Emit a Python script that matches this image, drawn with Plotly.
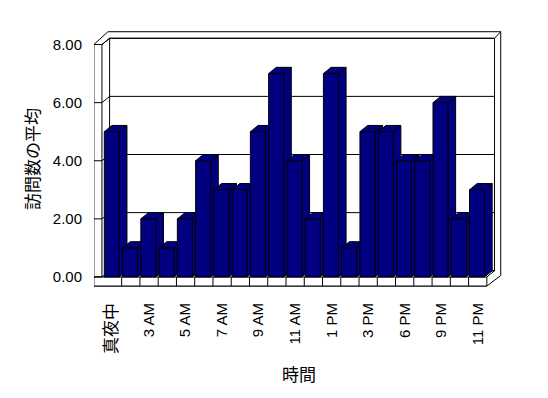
import plotly.graph_objects as go

# ---- data ----
hours = ["真夜中", "2 AM", "3 AM", "4 AM", "5 AM", "6 AM", "7 AM", "8 AM", "9 AM", "10 AM",
         "11 AM", "正午", "1 PM", "2 PM", "3 PM", "5 PM", "6 PM", "8 PM", "9 PM", "10 PM", "11 PM"]
avg_visits = [5, 1, 2, 1, 2, 4, 3, 3, 5, 7, 4, 2, 7, 1, 5, 5, 4, 4, 6, 2, 3]
y_ticks = [0, 2, 4, 6, 8]

x_idx = list(range(len(hours)))
shown_idx = x_idx[::2]


def fmt_label(t):
    if any(ord(c) > 0x2E80 for c in t):
        return ("<span style=\"font-family:'Noto Sans CJK JP';font-size:17px\">"
                f"{t}</span>")
    return t


shown_text = [fmt_label(t) for t in hours[::2]]

# ---- style / geometry (data units) ----
NAVY = "#000080"
DX, DY = 0.42, 0.215          # oblique depth offset
BAR_OFF, BAR_W = -0.45, 0.82
WALL_OUT, WALL_IN = -1.02, -0.58
FLOOR_B = -0.31
N = len(hours)
RIGHT_IN = N - 0.5 + DX
RIGHT_OUT = RIGHT_IN + 0.34
TOP_IN = max(y_ticks) + DY
TOP_OUT = max(y_ticks) + 0.44
BACK_L = WALL_IN + DX

shapes = []
line = dict(color="black", width=1)


def poly(pts, fill="white"):
    p = "M " + " L ".join(f"{x},{y}" for x, y in pts) + " Z"
    shapes.append(dict(type="path", path=p, xref="x", yref="y", fillcolor=fill,
                       line=line, layer="below"))


def seg(x0, y0, x1, y1):
    shapes.append(dict(type="line", x0=x0, y0=y0, x1=x1, y1=y1, xref="x", yref="y",
                       line=line, layer="below"))


ymax = max(y_ticks)
# outer frame (wall slabs)
poly([(WALL_OUT, ymax), (BACK_L - 0.09, TOP_OUT), (RIGHT_OUT, TOP_OUT),
      (RIGHT_OUT, 0.05), (N - 0.5, FLOOR_B), (WALL_OUT, FLOOR_B)])
# back wall inner
poly([(BACK_L, TOP_IN), (RIGHT_IN, TOP_IN), (RIGHT_IN, DY), (BACK_L, DY)])
seg(WALL_IN, ymax, BACK_L, TOP_IN)
seg(RIGHT_IN, TOP_IN, RIGHT_OUT, TOP_OUT)
seg(N - 0.5, 0, RIGHT_IN, DY)
# left wall front face
poly([(WALL_OUT, 0), (WALL_IN, 0), (WALL_IN, ymax), (WALL_OUT, ymax)])
# floor front face
poly([(WALL_OUT, FLOOR_B), (N - 0.5, FLOOR_B), (N - 0.5, 0), (WALL_OUT, 0)])
for k in range(1, N):
    seg(k - 0.5, FLOOR_B, k - 0.5, 0)
# gridlines on back wall + ticks across wall face
for v in y_ticks:
    seg(WALL_OUT, v, WALL_IN, v)
    seg(WALL_IN, v, BACK_L, v + DY)
    seg(BACK_L, v + DY, RIGHT_IN, v + DY)

# bar sides and tops
for i, v in zip(x_idx, avg_visits):
    xl = i + BAR_OFF
    xr = xl + BAR_W
    poly([(xr, 0), (xr, v), (xr + DX, v + DY), (xr + DX, DY)], fill=NAVY)
    poly([(xl, v), (xl + DX, v + DY), (xr + DX, v + DY), (xr, v)], fill=NAVY)

fig = go.Figure(go.Bar(
    x=x_idx, y=avg_visits, width=BAR_W, offset=BAR_OFF,
    marker=dict(color=NAVY, line=dict(color="black", width=1)),
    hoverinfo="skip",
))

# page body has an 8px margin; figure sized to fit inside it
W, H = 532, 382
ML, MR, MT, MB = 86, 36, 20, 100
px_x = 18.26
px_y = 29.06
x_lo = -0.5 - (103.4 - 8 - ML) / px_x
x_hi = x_lo + (W - ML - MR) / px_x
y_lo = -((H - MB) - (277 - 8)) / px_y
y_hi = y_lo + (H - MT - MB) / px_y

TICKFONT = dict(family="Liberation Sans, Noto Sans CJK JP", size=15, color="black")
TITLEFONT = dict(family="Noto Sans CJK JP", size=17, color="black")

fig.update_layout(
    width=W, height=H,
    margin=dict(l=ML, r=MR, t=MT, b=MB, autoexpand=False),
    paper_bgcolor="white", plot_bgcolor="rgba(0,0,0,0)",
    showlegend=False,
    shapes=shapes,
    xaxis=dict(range=[x_lo, x_hi], tickvals=shown_idx, ticktext=shown_text,
               tickangle=-90, ticks="outside", ticklen=6, tickcolor="rgba(0,0,0,0)",
               showgrid=False, zeroline=False, showline=False, automargin=False,
               tickfont=TICKFONT,
               title=dict(text="時間", font=TITLEFONT, standoff=16)),
    yaxis=dict(range=[y_lo, y_hi], tickvals=y_ticks, tickformat=".2f",
               ticks="outside", ticklen=8, tickcolor="rgba(0,0,0,0)",
               showgrid=False, zeroline=False, showline=False, automargin=False,
               tickfont=TICKFONT,
               title=dict(text="訪問数の平均", font=TITLEFONT, standoff=8)),
)

fig.write_html("out.html")
